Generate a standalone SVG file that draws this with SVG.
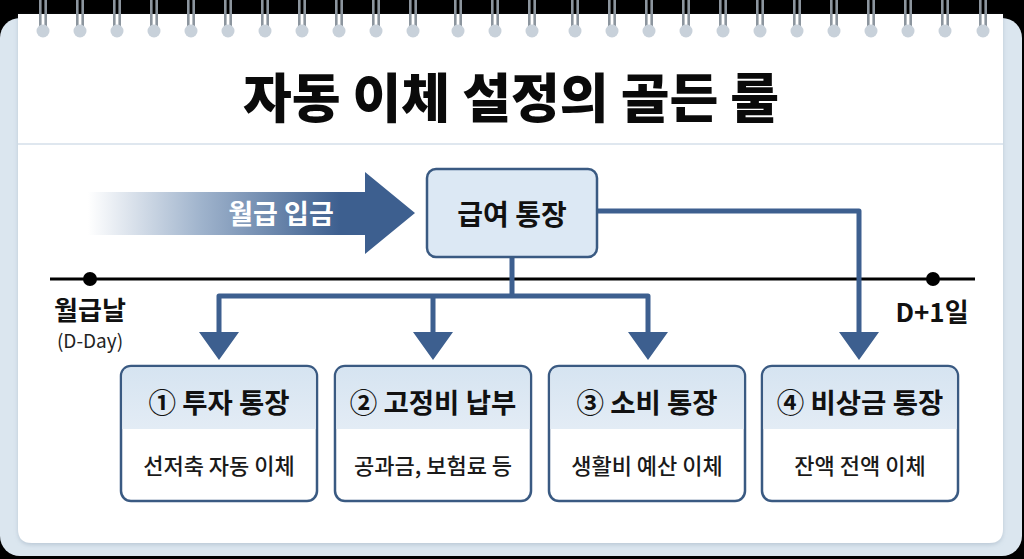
<svg xmlns="http://www.w3.org/2000/svg" xmlns:xlink="http://www.w3.org/1999/xlink" width="1024" height="559" viewBox="0 0 1024 559">
<defs>
<style>
text{font-family:"Noto Sans CJK KR","Noto Sans",sans-serif;}
.b{font-weight:700;fill:#111;}
.hd{font-weight:700;font-size:27.5px;fill:#111;text-anchor:middle;}
.sb{font-weight:500;font-size:22px;fill:#1a1a1a;text-anchor:middle;}
.conn{fill:none;stroke:#3d5f8f;stroke-width:5;stroke-linejoin:round;}
.box{fill:#fff;stroke:#3a5a82;stroke-width:2.5;}
</style>
<linearGradient id="ag" gradientUnits="userSpaceOnUse" x1="88" y1="0" x2="340" y2="0">
<stop offset="0" stop-color="#ffffff"/>
<stop offset="0.45" stop-color="#9fb3cc"/>
<stop offset="1" stop-color="#3d5f8f"/>
</linearGradient>
<linearGradient id="hg" x1="0" y1="0" x2="0" y2="1">
<stop offset="0" stop-color="#d6e4f1"/>
<stop offset="1" stop-color="#e3ecf5"/>
</linearGradient>
<g id="ring">
<rect x="-4" y="0" width="2.6" height="29" fill="#8c959e"/>
<rect x="1.4" y="0" width="2.6" height="29" fill="#8c959e"/>
<circle cx="0" cy="31" r="6.5" fill="#c8d1da"/>
</g>
<filter id="sh" x="-5%" y="-5%" width="110%" height="110%">
<feDropShadow dx="0" dy="2" stdDeviation="2" flood-color="#7f93a8" flood-opacity="0.35"/>
</filter>
</defs>
<rect x="0" y="0" width="1024" height="559" fill="#000"/>
<rect x="0" y="18" width="1022" height="538" rx="20" fill="#dbe6ef"/>
<path d="M18 14 H1003 V529 Q1003 543 989 543 H32 Q18 543 18 529 Z" fill="#fff" filter="url(#sh)"/>
<line x1="18" y1="144" x2="1003" y2="144" stroke="#dfe7ef" stroke-width="2"/>
<g id="rings">
<use xlink:href="#ring" x="43"/><use xlink:href="#ring" x="80"/><use xlink:href="#ring" x="117"/><use xlink:href="#ring" x="154"/><use xlink:href="#ring" x="191"/><use xlink:href="#ring" x="228"/><use xlink:href="#ring" x="265"/><use xlink:href="#ring" x="302"/><use xlink:href="#ring" x="339"/><use xlink:href="#ring" x="376"/><use xlink:href="#ring" x="413"/><use xlink:href="#ring" x="458"/><use xlink:href="#ring" x="495"/><use xlink:href="#ring" x="532"/><use xlink:href="#ring" x="575"/><use xlink:href="#ring" x="612"/><use xlink:href="#ring" x="649"/><use xlink:href="#ring" x="686"/><use xlink:href="#ring" x="723"/><use xlink:href="#ring" x="760"/><use xlink:href="#ring" x="797"/><use xlink:href="#ring" x="834"/><use xlink:href="#ring" x="871"/><use xlink:href="#ring" x="908"/><use xlink:href="#ring" x="945"/><use xlink:href="#ring" x="983"/>
</g>
<text x="511" y="118" font-weight="900" fill="#0a0a0a" font-size="53" text-anchor="middle">자동 이체 설정의 골든 룰</text>

<g id="timeline">
<line x1="50" y1="279" x2="975" y2="279" stroke="#000" stroke-width="3"/>
<circle cx="90" cy="279" r="7" fill="#000"/>
<circle cx="933" cy="279" r="7" fill="#000"/>
<text x="90" y="320" class="b" font-size="26" text-anchor="middle">월급날</text>
<text x="90" y="348" font-size="19" fill="#222" text-anchor="middle">(D-Day)</text>
<text x="932" y="322" class="b" font-size="26" text-anchor="middle">D+1일</text>
</g>

<g id="income">
<path d="M88 192 H365 V172 L415 213 L365 254 V235 H88 Z" fill="url(#ag)"/>
<text x="281" y="224" font-size="27" font-weight="700" fill="#fff" text-anchor="middle">월급 입금</text>
</g>

<g id="connectors">
<path class="conn" d="M512 257 V296 M219 333 V296 H648 V333 M433 296 V333" />
<path class="conn" d="M597 211 H859 V333"/>
<path d="M199 332 L239 332 L219 360 Z M413 332 L453 332 L433 360 Z M628 332 L668 332 L648 360 Z M839 332 L879 332 L859 360 Z" fill="#3d5f8f"/>
</g>

<g id="salary">
<rect x="427" y="169" width="170" height="88" rx="9" fill="#dce8f4" stroke="#3a5a82" stroke-width="2.5"/>
<text x="512" y="225" class="b" font-size="28" text-anchor="middle">급여 통장</text>
</g>

<g id="n1">
<rect class="box" x="121" y="366" width="196" height="135" rx="10"/>
<path d="M122.3 429 V376 Q122.3 367.3 131 367.3 H307 Q315.7 367.3 315.7 376 V429 Z" fill="url(#hg)"/>
<text class="hd" x="219" y="413">① 투자 통장</text>
<text class="sb" x="219" y="474">선저축 자동 이체</text>
</g>
<g id="n2">
<rect class="box" x="335" y="366" width="196" height="135" rx="10"/>
<path d="M336.3 429 V376 Q336.3 367.3 345 367.3 H521 Q529.7 367.3 529.7 376 V429 Z" fill="url(#hg)"/>
<text class="hd" x="433" y="413">② 고정비 납부</text>
<text class="sb" x="433" y="474">공과금, 보험료 등</text>
</g>
<g id="n3">
<rect class="box" x="549" y="366" width="196" height="135" rx="10"/>
<path d="M550.3 429 V376 Q550.3 367.3 559 367.3 H735 Q743.7 367.3 743.7 376 V429 Z" fill="url(#hg)"/>
<text class="hd" x="647" y="413">③ 소비 통장</text>
<text class="sb" x="647" y="474">생활비 예산 이체</text>
</g>
<g id="n4">
<rect class="box" x="762" y="366" width="196" height="135" rx="10"/>
<path d="M763.3 429 V376 Q763.3 367.3 772 367.3 H948 Q956.7 367.3 956.7 376 V429 Z" fill="url(#hg)"/>
<text class="hd" x="860" y="413">④ 비상금 통장</text>
<text class="sb" x="860" y="474">잔액 전액 이체</text>
</g>
</svg>
